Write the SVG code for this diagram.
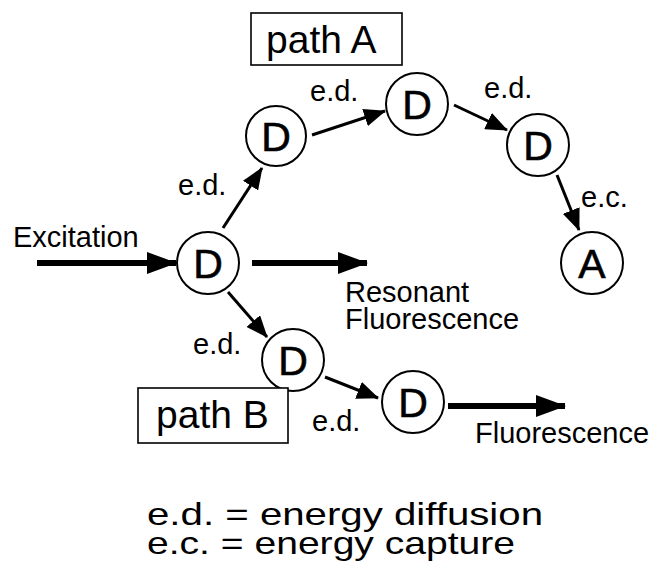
<svg xmlns="http://www.w3.org/2000/svg" width="657" height="573" viewBox="0 0 657 573">
<style>
  .node circle { fill: #fff; stroke: #000; stroke-width: 2; }
  .node text { font-family: "Liberation Sans", Arial, sans-serif; font-size: 41px; text-anchor: middle; fill: #000; stroke: #000; stroke-width: 0.6; }
  .lbl { font-family: "Liberation Sans", Arial, sans-serif; font-size: 29px; fill: #000; }
  .box rect { fill: #fff; stroke: #000; stroke-width: 1.6; }
  .box text { font-family: "Liberation Sans", Arial, sans-serif; font-size: 39px; fill: #000; }
  .thin { stroke: #000; stroke-width: 3; fill: none; marker-end: url(#ah); }
  .thick { stroke: #000; stroke-width: 6; fill: none; marker-end: url(#ahb); }
  .legend { font-family: "Liberation Sans", Arial, sans-serif; font-size: 32px; fill: #000; }
</style>
<defs>
  <marker id="ah" markerUnits="userSpaceOnUse" markerWidth="22" markerHeight="18" viewBox="0 0 22 18" refX="21" refY="9" orient="auto">
    <path d="M0,0 L22,9 L0,18 z" fill="#000"/>
  </marker>
  <marker id="ahb" markerUnits="userSpaceOnUse" markerWidth="30" markerHeight="24" viewBox="0 0 30 24" refX="29" refY="12" orient="auto">
    <path d="M0,1 L30,12 L0,23 z" fill="#000"/>
  </marker>
</defs>
<rect width="657" height="573" fill="#fff"/>

<g id="connectors">
  <line class="thick" x1="37" y1="263" x2="176" y2="263"/>
  <line class="thick" x1="252" y1="263" x2="367" y2="263"/>
  <line class="thick" x1="448" y1="406" x2="565" y2="406"/>
  <line class="thin" x1="223" y1="228" x2="262" y2="168"/>
  <line class="thin" x1="312" y1="135" x2="385" y2="111"/>
  <line class="thin" x1="454" y1="105" x2="507" y2="130"/>
  <line class="thin" x1="557" y1="175" x2="579" y2="230"/>
  <line class="thin" x1="228" y1="292" x2="267" y2="337"/>
  <line class="thin" x1="325" y1="377" x2="378" y2="398"/>
</g>

<g id="node-D0" class="node"><circle cx="208" cy="263" r="31"/><text x="208" y="278">D</text></g>
<g id="node-D1" class="node"><circle cx="276" cy="136" r="30"/><text x="276" y="151">D</text></g>
<g id="node-D2" class="node"><circle cx="417" cy="104" r="31"/><text x="417" y="119">D</text></g>
<g id="node-D3" class="node"><circle cx="538" cy="145" r="31"/><text x="538" y="160">D</text></g>
<g id="node-A" class="node"><circle cx="592" cy="263" r="31"/><text x="592" y="278">A</text></g>
<g id="node-D4" class="node"><circle cx="293" cy="360" r="31"/><text x="293" y="375">D</text></g>
<g id="node-D5" class="node"><circle cx="413" cy="402" r="31"/><text x="413" y="417">D</text></g>

<g id="box-pathA" class="box"><rect x="251" y="13" width="151" height="52"/><text x="266" y="53">path A</text></g>
<g id="box-pathB" class="box"><rect x="138" y="388" width="150" height="55"/><text x="156" y="428">path B</text></g>

<g id="labels">
  <text class="lbl" x="13" y="247">Excitation</text>
  <text class="lbl" x="178" y="195">e.d.</text>
  <text class="lbl" x="310" y="101">e.d.</text>
  <text class="lbl" x="484" y="98">e.d.</text>
  <text class="lbl" x="581" y="207">e.c.</text>
  <text class="lbl" x="193" y="354">e.d.</text>
  <text class="lbl" x="312" y="431">e.d.</text>
  <text class="lbl" x="345" y="302">Resonant</text>
  <text class="lbl" x="345" y="329">Fluorescence</text>
  <text class="lbl" x="475" y="443">Fluorescence</text>
</g>

<g id="legend">
  <text class="legend" x="147" y="525" textLength="396" lengthAdjust="spacingAndGlyphs">e.d. = energy diffusion</text>
  <text class="legend" x="147" y="554" textLength="368" lengthAdjust="spacingAndGlyphs">e.c. = energy capture</text>
</g>
</svg>
